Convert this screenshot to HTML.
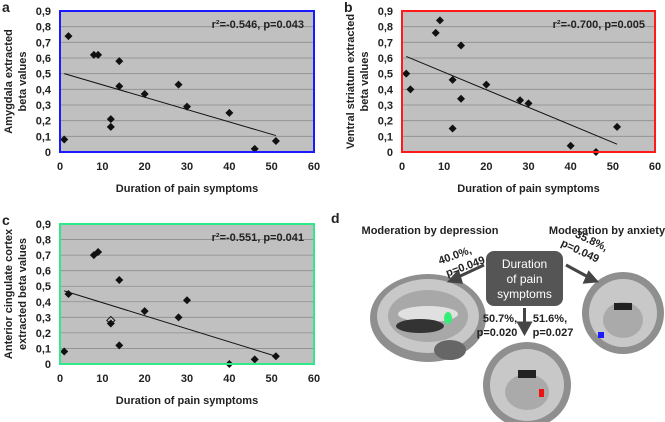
<!DOCTYPE html>
<html><head><meta charset="utf-8"><style>
body{margin:0;background:#fff;width:665px;height:422px;overflow:hidden;font-family:"Liberation Sans",sans-serif}
svg{position:absolute;left:0;top:0}
text{font-family:"Liberation Sans",sans-serif;font-weight:bold;fill:#222}
</style></head><body>
<svg id="s" width="665" height="422"></svg>
<script>
const xTicks=[0,10,20,30,40,50,60];
const yTicks=['0','0,1','0,2','0,3','0,4','0,5','0,6','0,7','0,8','0,9'];
const durA=[1,2,8,9,12,12,14,14,20,28,30,40,46,51];
const betaA=[0.08,0.74,0.62,0.62,0.21,0.16,0.58,0.42,0.37,0.43,0.29,0.25,0.02,0.07];
const trendA=[0.50,0.105];
const durB=[1,2,8,9,12,12,14,14,20,28,30,40,46,51];
const betaB=[0.50,0.40,0.76,0.84,0.46,0.15,0.68,0.34,0.43,0.33,0.31,0.04,0.0,0.16];
const trendB=[0.61,0.05];
const durC=[1,2,8,9,12,14,14,20,28,30,40,46,51];
const betaC=[0.08,0.45,0.70,0.72,0.26,0.54,0.12,0.34,0.30,0.41,0.0,0.03,0.05];
const trendC=[0.47,0.05];
const trendX=[1,51];
const NS='http://www.w3.org/2000/svg';
const svg=document.getElementById('s');
function el(t,a,p){const e=document.createElementNS(NS,t);for(const k in a)e.setAttribute(k,a[k]);(p||svg).appendChild(e);return e;}
function panel(id,letter,L,R,T,B,color,xs,ys,tr,stat,ylab){
  const g=el('g',{});
  
  
  const sx=v=>L+(v/60)*(R-L), sy=v=>B-(v/0.9)*(B-T);
  el('rect',{x:L,y:T,width:R-L,height:B-T,fill:'#c0c0c0'},g);
  yTicks.forEach((t,i)=>{
    if(i>0){const l=el('line',{x1:L,x2:R,y1:sy(i/10),y2:sy(i/10),stroke:'#8c8c8c','stroke-width':0.8},g);
      }
    const tx=el('text',{x:L-9,y:sy(i/10)+4,'text-anchor':'end','font-size':11},g);tx.textContent=t;
    
  });
  xTicks.forEach(t=>{const tx=el('text',{x:sx(t),y:B+18,'text-anchor':'middle','font-size':11},g);tx.textContent=t;
    });
  const ln=el('line',{x1:sx(trendX[0]),y1:sy(tr[0]),x2:sx(trendX[1]),y2:sy(tr[1]),stroke:'#111','stroke-width':1},g);
  
  xs.forEach((x,i)=>{const cx=sx(x),cy=sy(ys[i]);
    const p=el('path',{d:`M${cx} ${cy-4}L${cx+4} ${cy}L${cx} ${cy+4}L${cx-4} ${cy}Z`,fill:'#111'},g);
    });
  el('rect',{x:L,y:T,width:R-L,height:B-T,fill:'none',stroke:color,'stroke-width':2},g);
  const st=el('text',{x:R-10,y:T+17,'text-anchor':'end','font-size':11},g);st.textContent=stat;
  
  const xt=el('text',{x:(L+R)/2,y:B+40,'text-anchor':'middle','font-size':11},g);xt.textContent='Duration of pain symptoms';
  
  const cy=(T+B)/2;
  ylab.forEach((s,i)=>{const t=el('text',{transform:`translate(${L-48+i*14},${cy}) rotate(-90)`,'text-anchor':'middle','font-size':11},g);t.textContent=s;
    });
  const lt=el('text',{x:L-58,y:T+1,'font-size':14},g);lt.textContent=letter;
  
  return {sx,sy,g};
}
panel('a','a',60,314,11,152,'#1a1aff',durA,betaA,trendA,'r²=-0.546, p=0.043',['Amygdala extracted','beta values']);
panel('b','b',402,655,11,152,'#ff1a1a',durB,betaB,trendB,'r²=-0.700, p=0.005',['Ventral striatum extracted','beta values']);
const pc=panel('c','c',60,314,224,364,'#2ee88a',durC,betaC,trendC,'r²=-0.551, p=0.041',['Anterior cingulate cortex','extracted beta values']);
const hx=pc.sx(12),hy=pc.sy(0.28);
el('path',{d:`M${hx} ${hy-4}L${hx+4} ${hy}L${hx} ${hy+4}L${hx-4} ${hy}Z`,fill:'none',stroke:'#111'},pc.g);
</script>
<svg width="665" height="422">
<text x="331" y="223" font-size="14">d</text>
<text x="430" y="234" font-size="11" text-anchor="middle">Moderation by depression</text>
<text x="607" y="234" font-size="11" text-anchor="middle">Moderation by anxiety</text>
<g><ellipse cx="428" cy="318" rx="58" ry="44" fill="#8f8f8f"/><ellipse cx="428" cy="316" rx="51" ry="37" fill="#c8c8c8"/><ellipse cx="428" cy="316" rx="40" ry="26" fill="#a8a8a8"/><ellipse cx="428" cy="314" rx="30" ry="8" fill="#e0e0e0"/><ellipse cx="420" cy="326" rx="24" ry="7" fill="#333"/><ellipse cx="450" cy="350" rx="16" ry="10" fill="#666"/><ellipse cx="448" cy="318" rx="4" ry="6" fill="#33ee77"/></g>
<g><ellipse cx="623" cy="313" rx="41" ry="41" fill="#8f8f8f"/><ellipse cx="623" cy="313" rx="34" ry="34" fill="#c8c8c8"/><ellipse cx="623" cy="320" rx="20" ry="18" fill="#aaa"/><rect x="614" y="303" width="18" height="7" fill="#222"/><rect x="598" y="332" width="6" height="6" fill="#1a1aff"/></g>
<g><ellipse cx="527" cy="385" rx="44" ry="43" fill="#8f8f8f"/><ellipse cx="527" cy="385" rx="37" ry="36" fill="#c8c8c8"/><ellipse cx="527" cy="392" rx="22" ry="18" fill="#aaa"/><rect x="518" y="370" width="18" height="8" fill="#222"/><rect x="539" y="389" width="5" height="8" fill="#ee1111"/></g>
<rect x="486" y="251" width="77" height="55" rx="8" fill="#555"/>
<text x="524.5" y="268" font-size="12" text-anchor="middle" style="fill:#fff;font-weight:normal">Duration</text>
<text x="524.5" y="283" font-size="12" text-anchor="middle" style="fill:#fff;font-weight:normal">of pain</text>
<text x="524.5" y="298" font-size="12" text-anchor="middle" style="fill:#fff;font-weight:normal">symptoms</text>
<g stroke="#444" stroke-width="3" fill="#444">
<line x1="484" y1="265" x2="456" y2="278"/><path d="M450 281 L458 272 L461 282Z"/>
<line x1="566" y1="265" x2="590" y2="278"/><path d="M596 281 L585 282 L589 273Z"/>
<line x1="524.5" y1="308" x2="524.5" y2="326"/><path d="M519 323 L530 323 L524.5 333Z"/>
</g>
<text x="458" y="258" font-size="11" transform="rotate(-20 458 258)" text-anchor="middle"><tspan x="456">40.0%,</tspan><tspan x="462" dy="14">p=0.049</tspan></text>
<text x="590" y="244" font-size="11" transform="rotate(25 590 244)" text-anchor="middle"><tspan x="590">35.8%,</tspan><tspan x="584" dy="14">p=0.049</tspan></text>
<text x="497" y="322" font-size="11" text-anchor="middle"><tspan x="500">50.7%,</tspan><tspan x="497" dy="14">p=0.020</tspan></text>
<text x="553" y="322" font-size="11" text-anchor="middle"><tspan x="550">51.6%,</tspan><tspan x="553" dy="14">p=0.027</tspan></text>
</svg>
</body></html>
